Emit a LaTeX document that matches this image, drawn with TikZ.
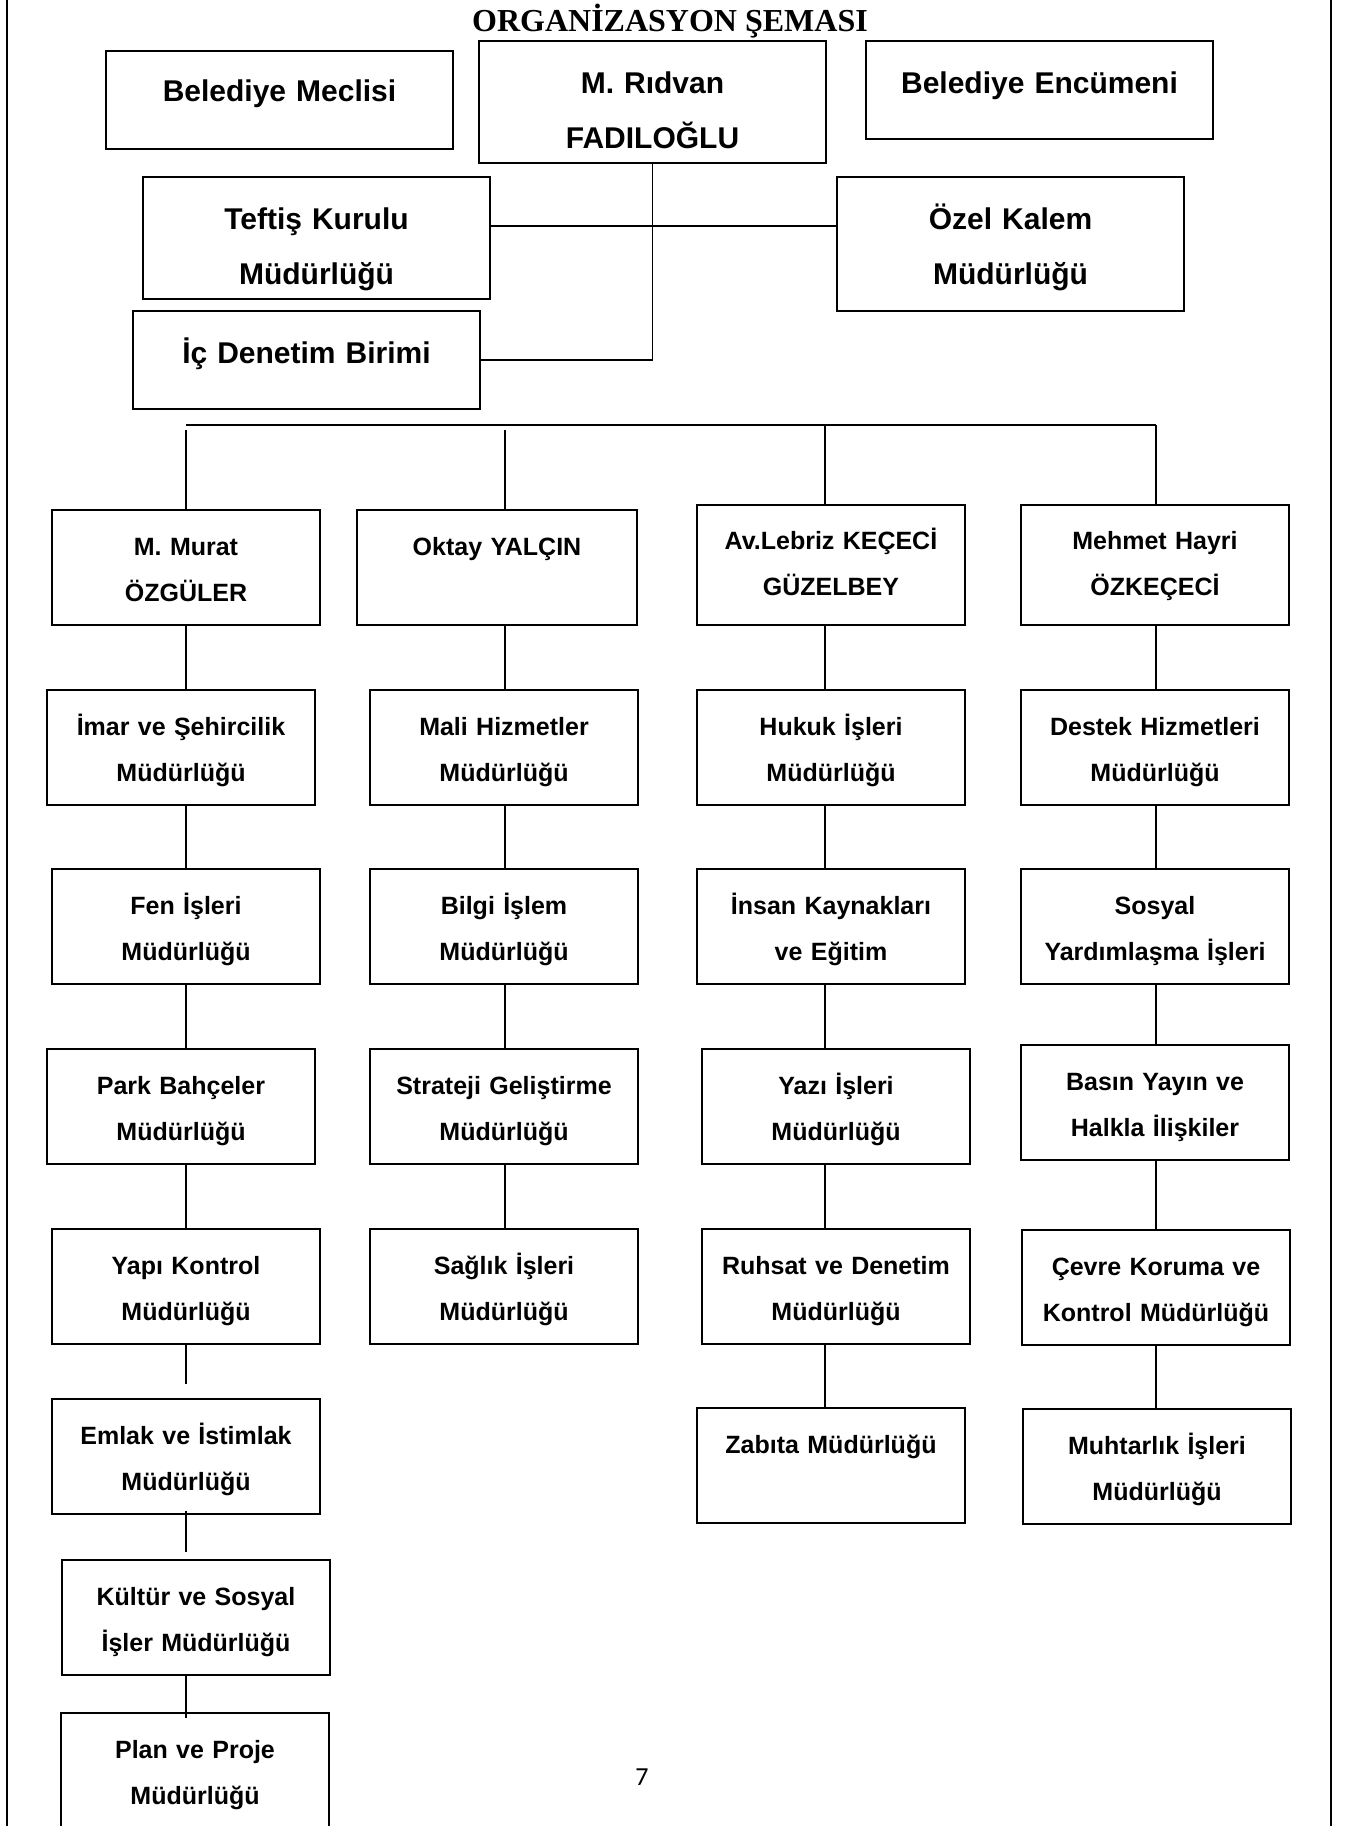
\documentclass[tikz,border=0pt]{standalone}
\usepackage{fontspec}
\setmainfont{Liberation Sans}
\newfontfamily\titlefont{Liberation Serif}
\newfontfamily\numfont{Carlito}
\usepackage{tikz}
\tikzset{
	top node/.style={draw,line width=1pt,inner sep=0pt,anchor=north west,align=center,
		text width=173.5pt,text height=26pt,font=\fontsize{15}{27.5}\selectfont\bfseries},
	unit node/.style={draw,line width=1pt,inner sep=0pt,anchor=north west,align=center,
		text width=134pt,text height=22.5pt,text depth=35pt,font=\fontsize{12.5}{23}\selectfont\bfseries},
	link/.style={line width=0.75pt},
	bus/.style={line width=1.2pt}
}

\begin{document}
\begin{tikzpicture}[x=0.5pt,y=-0.5pt]
	\useasboundingbox (0,0) rectangle (1351,1826);
	\draw[line width=1pt] (7,0) -- (7,1826) (1331,0) -- (1331,1826);
	\node [anchor=base,font=\titlefont\bfseries\fontsize{16}{18}\selectfont] (title) at (670,31) {ORGANİZASYON ŞEMASI};
	\node [top node,text height=25pt,text depth=24pt] (meclis) at (105,50) {Belediye Meclisi};
	\node [top node,text depth=35pt] (baskan) at (478,40) {M. Rıdvan\\FADILOĞLU};
	\node [top node,text depth=23pt] (encumen) at (865,40) {Belediye Encümeni};
	\node [top node,text depth=35pt] (teftis) at (142,176) {Teftiş Kurulu\\Müdürlüğü};
	\node [top node,text depth=41pt] (ozel) at (836,176) {Özel Kalem\\Müdürlüğü};
	\node [top node,text depth=23pt] (icdenetim) at (132,310) {İç Denetim Birimi};
	\coordinate (tk) at (652,226);
	\draw[link] (baskan.south) |- (icdenetim.east);
	\draw[link] (teftis.east |- tk) -- (ozel.west |- tk);

	\node [unit node] (murat) at (51,509) {M. Murat\\ÖZGÜLER};
	\node [unit node] (imar) at (46,689) {İmar ve Şehircilik\\Müdürlüğü};
	\node [unit node] (fen) at (51,868) {Fen İşleri\\Müdürlüğü};
	\node [unit node] (park) at (46,1048) {Park Bahçeler\\Müdürlüğü};
	\node [unit node] (yapi) at (51,1228) {Yapı Kontrol\\Müdürlüğü};
	\node [unit node] (emlak) at (51,1398) {Emlak ve İstimlak\\Müdürlüğü};
	\node [unit node] (kultur) at (61,1559) {Kültür ve Sosyal\\İşler Müdürlüğü};
	\node [unit node,text depth=34.5pt] (plan) at (60,1712) {Plan ve Proje\\Müdürlüğü};

	\node [unit node,text width=140pt] (oktay) at (356,509) {Oktay YALÇIN};
	\node [unit node] (mali) at (369,689) {Mali Hizmetler\\Müdürlüğü};
	\node [unit node] (bilgi) at (369,868) {Bilgi İşlem\\Müdürlüğü};
	\node [unit node] (strateji) at (369,1048) {Strateji Geliştirme\\Müdürlüğü};
	\node [unit node] (saglik) at (369,1228) {Sağlık İşleri\\Müdürlüğü};

	\node [unit node,text height=22pt,text depth=38pt] (lebriz) at (696,504) {Av.Lebriz KEÇECİ\\GÜZELBEY};
	\node [unit node] (hukuk) at (696,689) {Hukuk İşleri\\Müdürlüğü};
	\node [unit node] (insan) at (696,868) {İnsan Kaynakları\\ve Eğitim};
	\node [unit node] (yazi) at (701,1048) {Yazı İşleri\\Müdürlüğü};
	\node [unit node] (ruhsat) at (701,1228) {Ruhsat ve Denetim\\Müdürlüğü};
	\node [unit node] (zabita) at (696,1407) {Zabıta Müdürlüğü};

	\node [unit node,text height=22pt,text depth=38pt] (mehmet) at (1020,504) {Mehmet Hayri\\ÖZKEÇECİ};
	\node [unit node] (destek) at (1020,689) {Destek Hizmetleri\\Müdürlüğü};
	\node [unit node] (sosyal) at (1020,868) {Sosyal\\Yardımlaşma İşleri};
	\node [unit node] (basin) at (1020,1044) {Basın Yayın ve\\Halkla İlişkiler};
	\node [unit node] (cevre) at (1021,1229) {Çevre Koruma ve\\Kontrol Müdürlüğü};
	\node [unit node] (muhtar) at (1022,1408) {Muhtarlık İşleri\\Müdürlüğü};

	\coordinate (b1) at (186,425);
	\coordinate (b2) at (505,425);
	\coordinate (b3) at (825,425);
	\coordinate (b4) at (1156,425);
	\draw[bus] (b1) -- (b4);
	\draw[link,shorten <=2.5pt] (b1) -- (murat.north -| b1);
	\draw[link,shorten <=2.5pt] (b2) -- (oktay.north -| b2);
	\draw[link] (b3) -- (lebriz.north -| b3);
	\draw[link] (b4) -- (mehmet.north -| b4);
	\foreach \a/\b in {murat/imar,imar/fen,fen/park,park/yapi}
		\draw[link] (\a.south -| b1) -- (\b.north -| b1);
	\draw[link,shorten >=7pt] (yapi.south -| b1) -- (emlak.north -| b1);
	\draw[link,shorten <=-2pt,shorten >=3.5pt] (emlak.south -| b1) -- (kultur.north -| b1);
	\draw[link,shorten >=-3pt] (kultur.south -| b1) -- (plan.north -| b1);
	\foreach \a/\b in {oktay/mali,mali/bilgi,bilgi/strateji,strateji/saglik}
		\draw[link] (\a.south -| b2) -- (\b.north -| b2);
	\foreach \a/\b in {lebriz/hukuk,hukuk/insan,insan/yazi,yazi/ruhsat,ruhsat/zabita}
		\draw[link] (\a.south -| b3) -- (\b.north -| b3);
	\foreach \a/\b in {mehmet/destek,destek/sosyal,sosyal/basin,basin/cevre,cevre/muhtar}
		\draw[link] (\a.south -| b4) -- (\b.north -| b4);

	\node [anchor=base,font=\numfont\fontsize{13}{15}\selectfont] (page) at (642,1785) {7};
\end{tikzpicture}
\end{document}
